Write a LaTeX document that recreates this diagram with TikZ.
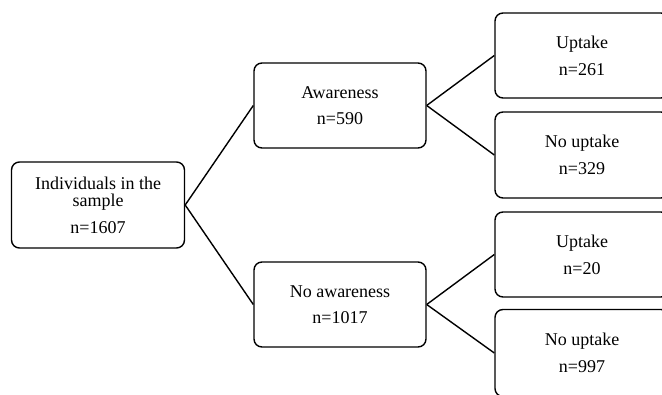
\documentclass[tikz,border=0pt]{standalone}
\usepackage{fontspec}
\setmainfont{Liberation Serif}
\begin{document}
\begin{tikzpicture}[x=1pt,y=-1pt,
  box/.style={draw=black, line width=1.4pt, rounded corners=8pt, fill=white,
    minimum width=172pt, minimum height=85pt, align=center, inner sep=0pt,
    font=\fontsize{18}{17}\selectfont},
  link/.style={draw=black, line width=1.4pt}]
\useasboundingbox (0,0) rectangle (662,395);
\clip (0,0) rectangle (662,395);
\fill[white] (0,0) rectangle (662,395);
\node[box, minimum width=173pt, minimum height=86pt] (root) at (98,205) {Individuals in the\\sample\\[10pt]n=1607};
\node[box] (aw) at (340,105.5) {Awareness\\[9pt]n=590};
\node[box] (naw) at (340,304.5) {No awareness\\[9pt]n=1017};
\node[box, minimum width=174pt] (u1) at (582,55.5) {Uptake\\[10pt]n=261};
\node[box, minimum width=174pt, minimum height=86pt] (nu1) at (582,155) {No uptake\\[10pt]n=329};
\node[box, minimum width=174pt] (u2) at (582,254.5) {Uptake\\[10pt]n=20};
\node[box, minimum width=174pt, minimum height=87pt] (nu2) at (582,353) {No uptake\\[10pt]n=997};
\draw[link] (root.east) -- (aw.west);
\draw[link] (root.east) -- (naw.west);
\draw[link] (aw.east) -- (u1.west);
\draw[link] (aw.east) -- (nu1.west);
\draw[link] (naw.east) -- (u2.west);
\draw[link] (naw.east) -- (nu2.west);
\end{tikzpicture}
\end{document}
